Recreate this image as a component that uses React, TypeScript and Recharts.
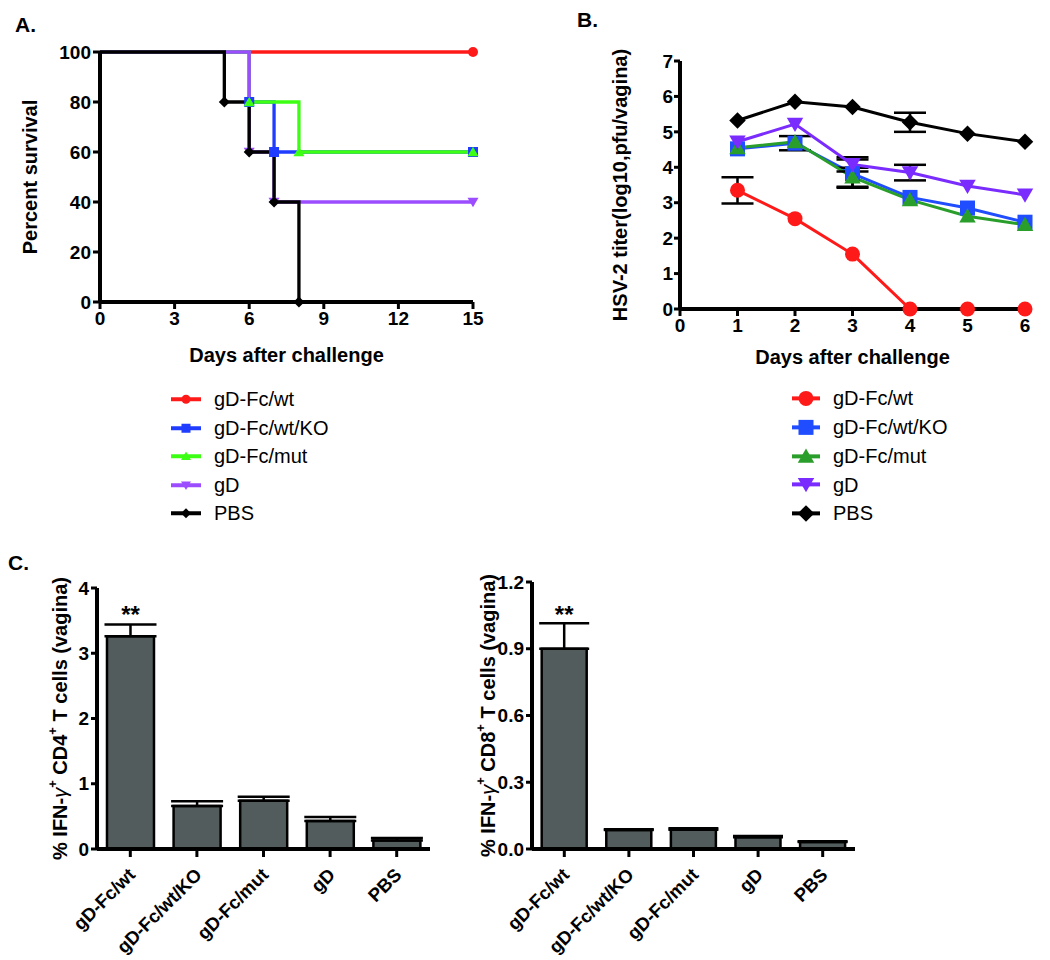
import React from 'react';
import { LineChart, Line, XAxis, YAxis, Label, ErrorBar, BarChart, Bar, LabelList } from 'recharts';

const FONT = '"Liberation Sans", Arial, Helvetica, sans-serif';

type Shape = 'circle' | 'square' | 'up' | 'down' | 'diamond';

const seriesNames = ['gD-Fc/wt', 'gD-Fc/wt/KO', 'gD-Fc/mut', 'gD', 'PBS'];
const seriesShapes: Shape[] = ['circle', 'square', 'up', 'down', 'diamond'];
const colorsA = ['#ff1a1a', '#1f3cff', '#3cff14', '#9b4dff', '#000000'];
const colorsB = ['#ff1a1a', '#1f4dff', '#2a9e2a', '#7a2cff', '#000000'];

// A. survival (step curves)
const survivalDayTicks = [0, 3, 6, 9, 12, 15];
const survivalPctTicks = [0, 20, 40, 60, 80, 100];
const survWtDays = [0, 15];
const survWtPct = [100, 100];
const survKoDays = [0, 6, 7, 15];
const survKoPct = [100, 80, 60, 60];
const survMutDays = [0, 6, 8, 15];
const survMutPct = [100, 80, 60, 60];
const survGdDays = [0, 6, 7, 15];
const survGdPct = [100, 60, 40, 40];
const survPbsDays = [0, 5, 6, 7, 8];
const survPbsPct = [100, 80, 60, 40, 0];

// B. viral titer (null = error bar hidden behind the symbol)
const titerDays = [1, 2, 3, 4, 5, 6];
const titerDayTicks = [0, 1, 2, 3, 4, 5, 6];
const titerTicks = [0, 1, 2, 3, 4, 5, 6, 7];
const titerWt = [3.35, 2.55, 1.55, 0, 0, 0];
const titerWtErr = [0.37, null, null, null, null, null];
const titerKo = [4.52, 4.68, 3.82, 3.15, 2.85, 2.45];
const titerKoErr = [null, 0.2, 0.4, null, null, null];
const titerMut = [4.55, 4.72, 3.72, 3.08, 2.62, 2.38];
const titerMutErr = [null, null, 0.27, null, null, null];
const titerGd = [4.72, 5.22, 4.08, 3.85, 3.47, 3.22];
const titerGdErr = [null, null, 0.2, 0.22, null, null];
const titerPbs = [5.32, 5.85, 5.7, 5.27, 4.95, 4.72];
const titerPbsErr = [null, null, null, 0.27, null, null];

// C. IFN-gamma+ T cells
const groups = ['gD-Fc/wt', 'gD-Fc/wt/KO', 'gD-Fc/mut', 'gD', 'PBS'];
const cd4Mean = [3.26, 0.66, 0.74, 0.43, 0.13];
const cd4Sem = [0.18, 0.07, 0.06, 0.06, 0.04];
const cd4Ticks = [0, 1, 2, 3, 4];
const cd8Mean = [0.9, 0.085, 0.087, 0.053, 0.032];
const cd8Sem = [0.115, 0.004, 0.006, 0.005, 0.003];
const cd8Ticks = [0, 0.3, 0.6, 0.9, 1.2];
const significance = ['**', '', '', '', ''];

const survival = [
  [survWtDays, survWtPct],
  [survKoDays, survKoPct],
  [survMutDays, survMutPct],
  [survGdDays, survGdPct],
  [survPbsDays, survPbsPct],
].map(([d, p]) => d.map((day, i) => ({ day, pct: p[i] })));

const titers = [
  [titerWt, titerWtErr],
  [titerKo, titerKoErr],
  [titerMut, titerMutErr],
  [titerGd, titerGdErr],
  [titerPbs, titerPbsErr],
].map(([v, e]) => titerDays.map((day, i) => ({ day, titer: v[i], err: e[i] })));

const cd4Data = groups.map((name, i) => ({ name, v: cd4Mean[i], err: [0, cd4Sem[i]], sig: significance[i] }));
const cd8Data = groups.map((name, i) => ({ name, v: cd8Mean[i], err: [0, cd8Sem[i]], sig: significance[i] }));

const axisLine = { stroke: '#000', strokeWidth: 4 };
const tickLine = { stroke: '#000', strokeWidth: 3 };
const tickStyle = { fill: '#000', fontSize: 19, fontWeight: 'bold', fontFamily: FONT };
const titleStyle = { fill: '#000', fontSize: 20, fontWeight: 'bold', fontFamily: FONT };

function Marker({ shape, cx, cy, size, color }: { shape: Shape; cx: number; cy: number; size: number; color: string }) {
  const h = size / 2;
  if (shape === 'circle') return <circle cx={cx} cy={cy} r={h} fill={color} />;
  if (shape === 'square') return <rect x={cx - h} y={cy - h} width={size} height={size} fill={color} />;
  if (shape === 'up')
    return <path d={`M${cx},${cy - h * 1.05}L${cx + h * 1.1},${cy + h * 0.85}L${cx - h * 1.1},${cy + h * 0.85}Z`} fill={color} />;
  if (shape === 'down')
    return <path d={`M${cx},${cy + h * 1.05}L${cx + h * 1.1},${cy - h * 0.85}L${cx - h * 1.1},${cy - h * 0.85}Z`} fill={color} />;
  return <path d={`M${cx},${cy - h * 1.1}L${cx + h * 1.1},${cy}L${cx},${cy + h * 1.1}L${cx - h * 1.1},${cy}Z`} fill={color} />;
}

const makeDot = (shape: Shape, size: number, color: string, skipFirst: boolean) => (p: any) => {
  if (p.cx == null || p.cy == null || (skipFirst && p.index === 0)) return <g key={`e-${p.index}`} />;
  return <Marker key={`m-${p.index}`} shape={shape} cx={p.cx} cy={p.cy} size={size} color={color} />;
};

const vTitle = (dx: number, parts: React.ReactNode) => (p: any) => {
  const vb = p.viewBox || { x: 0, y: 0, width: 0, height: 0 };
  const cx = vb.x + dx;
  const cy = vb.y + vb.height / 2;
  return (
    <text x={cx} y={cy} transform={`rotate(-90 ${cx} ${cy})`} textAnchor="middle" dominantBaseline="central" style={titleStyle}>
      {parts}
    </text>
  );
};

const cellsTitle = (cd: string) => [
  '% IFN-',
  <tspan key="g" fontStyle="italic" fontWeight="normal">γ</tspan>,
  <tspan key="s1" dy={-8} fontSize={13}>+</tspan>,
  <tspan key="r1" dy={8}>{' CD' + cd}</tspan>,
  <tspan key="s2" dy={-8} fontSize={13}>+</tspan>,
  <tspan key="r2" dy={8}>{' T cells (vagina)'}</tspan>,
];

const RotTick = (p: any) => (
  <g transform={`translate(${p.x + 6},${p.y + 17}) rotate(-45)`}>
    <text x={0} y={0} textAnchor="end" style={{ fill: '#000', fontSize: 18.5, fontWeight: 'bold', fontFamily: FONT }}>
      {p.payload.value}
    </text>
  </g>
);

const starLabel = (offset: number) => (p: any) => {
  if (!p.value) return null;
  return (
    <text x={p.x + p.width / 2} y={p.y - offset} textAnchor="middle" style={{ fill: '#000', fontSize: 24, fontWeight: 'bold', fontFamily: FONT }}>
      {p.value}
    </text>
  );
};

function LegendBlock({ left, top, colors, size, rowH, swatchW }: { left: number; top: number; colors: string[]; size: number; rowH: number; swatchW: number }) {
  return (
    <div style={{ position: 'absolute', left, top, fontFamily: FONT, fontSize: 20, color: '#000' }}>
      {seriesNames.map((name, i) => (
        <div key={name} style={{ height: rowH, display: 'flex', alignItems: 'center' }}>
          <svg width={swatchW} height={rowH} style={{ display: 'block' }}>
            <line x1={1} x2={swatchW - 1} y1={rowH / 2} y2={rowH / 2} stroke={colors[i]} strokeWidth={4} />
            <Marker shape={seriesShapes[i]} cx={swatchW / 2} cy={rowH / 2} size={size} color={colors[i]} />
          </svg>
          <span style={{ marginLeft: 12, lineHeight: 1 }}>{name}</span>
        </div>
      ))}
    </div>
  );
}

const panelLetter = (text: string, left: number, top: number) => (
  <div style={{ position: 'absolute', left, top, fontFamily: FONT, fontWeight: 'bold', fontSize: 21, lineHeight: 1 }}>{text}</div>
);

export default function App() {
  return (
    <div style={{ position: 'absolute', left: 0, top: 0, width: 1050, height: 960, background: '#fff', overflow: 'hidden' }}>
      {panelLetter('A.', 15, 14)}
      {panelLetter('B.', 577, 9)}
      {panelLetter('C.', 8, 552)}

      <div style={{ position: 'absolute', left: 0, top: 0 }}>
        <LineChart width={500} height={370} margin={{ top: 52, right: 27, bottom: 0, left: 0 }}>
          <XAxis type="number" dataKey="day" domain={[0, 15]} ticks={survivalDayTicks} interval={0} height={68}
            axisLine={axisLine} tickLine={tickLine} tickSize={7} tickMargin={3} tick={tickStyle}>
            <Label value="Days after challenge" position="insideBottom" offset={8} fill="#000" style={titleStyle} />
          </XAxis>
          <YAxis type="number" domain={[0, 100]} ticks={survivalPctTicks} interval={0} width={100}
            axisLine={axisLine} tickLine={tickLine} tickSize={7} tickMargin={2} tick={tickStyle}>
            <Label content={vTitle(30, 'Percent survival')} />
          </YAxis>
          {survival.map((data, i) => (
            <Line key={seriesNames[i]} data={data} dataKey="pct" type="stepAfter" stroke={colorsA[i]} strokeWidth={3.3}
              dot={makeDot(seriesShapes[i], 10, colorsA[i], true)} activeDot={false} isAnimationActive={false} />
          ))}
        </LineChart>
      </div>
      <LegendBlock left={170} top={385} colors={colorsA} size={9} rowH={28.5} swatchW={32} />

      <div style={{ position: 'absolute', left: 520, top: 0 }}>
        <LineChart width={530} height={380} margin={{ top: 61, right: 25, bottom: 11, left: 0 }}>
          <XAxis type="number" dataKey="day" domain={[0, 6]} ticks={titerDayTicks} interval={0} height={60}
            axisLine={axisLine} tickLine={tickLine} tickSize={7} tickMargin={3} tick={tickStyle}>
            <Label value="Days after challenge" position="insideBottom" offset={5} fill="#000" style={titleStyle} />
          </XAxis>
          <YAxis type="number" domain={[0, 7]} ticks={titerTicks} interval={0} width={160}
            axisLine={axisLine} tickLine={tickLine} tickSize={6} tickMargin={1} tick={tickStyle}>
            <Label content={vTitle(100, 'HSV-2 titer(log10,pfu/vagina)')} />
          </YAxis>
          {titers.map((data, i) => (
            <Line key={seriesNames[i]} data={data} dataKey="titer" type="linear" stroke={colorsB[i]} strokeWidth={3}
              dot={makeDot(seriesShapes[i], 15, colorsB[i], false)} activeDot={false} isAnimationActive={false}>
              <ErrorBar dataKey="err" direction="y" width={16} stroke="#000" strokeWidth={2.5} />
            </Line>
          ))}
        </LineChart>
      </div>
      <LegendBlock left={791} top={384} colors={colorsB} size={15} rowH={28.75} swatchW={30} />

      <div style={{ position: 'absolute', left: 0, top: 540 }}>
        <BarChart width={470} height={420} data={cd4Data} margin={{ top: 48, right: 40, bottom: 0, left: 0 }} barCategoryGap="15%">
          <XAxis dataKey="name" type="category" height={111} interval={0} axisLine={axisLine} tickLine={tickLine}
            tickSize={8} tickMargin={2} tick={RotTick} />
          <YAxis type="number" domain={[0, 4]} ticks={cd4Ticks} interval={0} width={97}
            axisLine={axisLine} tickLine={tickLine} tickSize={6} tickMargin={2} tick={tickStyle}>
            <Label content={vTitle(60, cellsTitle('4'))} />
          </YAxis>
          <Bar dataKey="v" fill="#525c5c" stroke="#000" strokeWidth={2.5} isAnimationActive={false}>
            <ErrorBar dataKey="err" direction="y" width={26} stroke="#000" strokeWidth={2.5} />
            <LabelList dataKey="sig" content={starLabel(13)} />
          </Bar>
        </BarChart>
      </div>

      <div style={{ position: 'absolute', left: 470, top: 540 }}>
        <BarChart width={580} height={420} data={cd8Data} margin={{ top: 42, right: 195, bottom: 0, left: 0 }} barCategoryGap="15%">
          <XAxis dataKey="name" type="category" height={111} interval={0} axisLine={axisLine} tickLine={tickLine}
            tickSize={8} tickMargin={2} tick={RotTick} />
          <YAxis type="number" domain={[0, 1.2]} ticks={cd8Ticks} interval={0} width={62}
            axisLine={axisLine} tickLine={tickLine} tickSize={6} tickMargin={2} tick={tickStyle}
            tickFormatter={(v: number) => v.toFixed(1)}>
            <Label content={vTitle(18, cellsTitle('8'))} />
          </YAxis>
          <Bar dataKey="v" fill="#525c5c" stroke="#000" strokeWidth={2.5} isAnimationActive={false}>
            <ErrorBar dataKey="err" direction="y" width={25} stroke="#000" strokeWidth={2.5} />
            <LabelList dataKey="sig" content={starLabel(26)} />
          </Bar>
        </BarChart>
      </div>
    </div>
  );
}
